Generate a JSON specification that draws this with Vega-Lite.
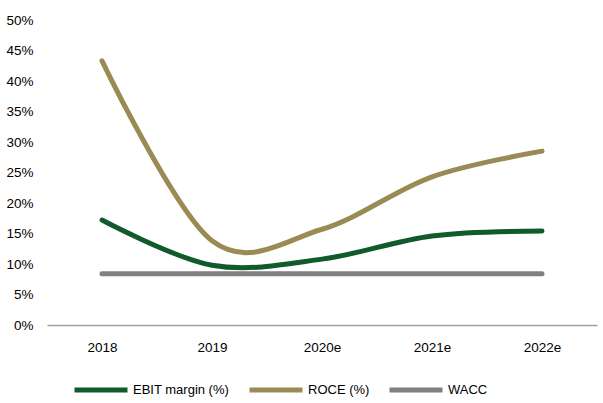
{
  "$schema": "https://vega.github.io/schema/vega-lite/v6.json",
  "autosize": {"type": "none"},
  "width": 550,
  "height": 305,
  "padding": {"left": 47, "top": 20, "right": 6, "bottom": 78},
  "background": "white",
  "config": {
    "view": {"stroke": null},
    "font": "Liberation Sans",
    "axis": {"labelFont": "Liberation Sans", "labelFontSize": 13.5, "labelColor": "#000000"},
    "legend": {"labelFont": "Liberation Sans", "labelFontSize": 13, "labelColor": "#000000"}
  },
  "data": {
    "values": [
      {"year": "2018", "series": "EBIT margin (%)", "value": 0.172},
      {"year": "2019", "series": "EBIT margin (%)", "value": 0.098},
      {"year": "2020e", "series": "EBIT margin (%)", "value": 0.108},
      {"year": "2021e", "series": "EBIT margin (%)", "value": 0.146},
      {"year": "2022e", "series": "EBIT margin (%)", "value": 0.154},
      {"year": "2018", "series": "ROCE (%)", "value": 0.433},
      {"year": "2019", "series": "ROCE (%)", "value": 0.138},
      {"year": "2020e", "series": "ROCE (%)", "value": 0.157},
      {"year": "2021e", "series": "ROCE (%)", "value": 0.243},
      {"year": "2022e", "series": "ROCE (%)", "value": 0.285},
      {"year": "2018", "series": "WACC", "value": 0.084},
      {"year": "2019", "series": "WACC", "value": 0.084},
      {"year": "2020e", "series": "WACC", "value": 0.084},
      {"year": "2021e", "series": "WACC", "value": 0.084},
      {"year": "2022e", "series": "WACC", "value": 0.084}
    ]
  },
  "mark": {"type": "line", "interpolate": "cardinal", "tension": 0, "strokeWidth": 5, "strokeCap": "round", "strokeJoin": "round"},
  "encoding": {
    "x": {
      "field": "year", "type": "ordinal", "title": null,
      "scale": {"type": "point", "padding": 0.5},
      "axis": {"labelAngle": 0, "ticks": false, "domainColor": "#a0a0a0", "domainWidth": 1.5, "labelPadding": 15, "grid": false}
    },
    "y": {
      "field": "value", "type": "quantitative", "title": null,
      "scale": {"domain": [0, 0.5], "nice": false},
      "axis": {"format": ".0%", "values": [0, 0.05, 0.1, 0.15, 0.2, 0.25, 0.3, 0.35, 0.4, 0.45, 0.5], "domain": false, "ticks": false, "grid": false, "labelPadding": 14}
    },
    "color": {
      "field": "series", "type": "nominal", "title": null,
      "scale": {"domain": ["EBIT margin (%)", "ROCE (%)", "WACC"], "range": ["#115a2b", "#9a8b55", "#808080"]},
      "legend": {
        "orient": "none", "legendX": 25, "legendY": 341, "direction": "horizontal",
        "symbolType": "stroke", "symbolSize": 2809, "symbolStrokeWidth": 5, "labelOffset": 3, "columnPadding": 9
      }
    }
  }
}
